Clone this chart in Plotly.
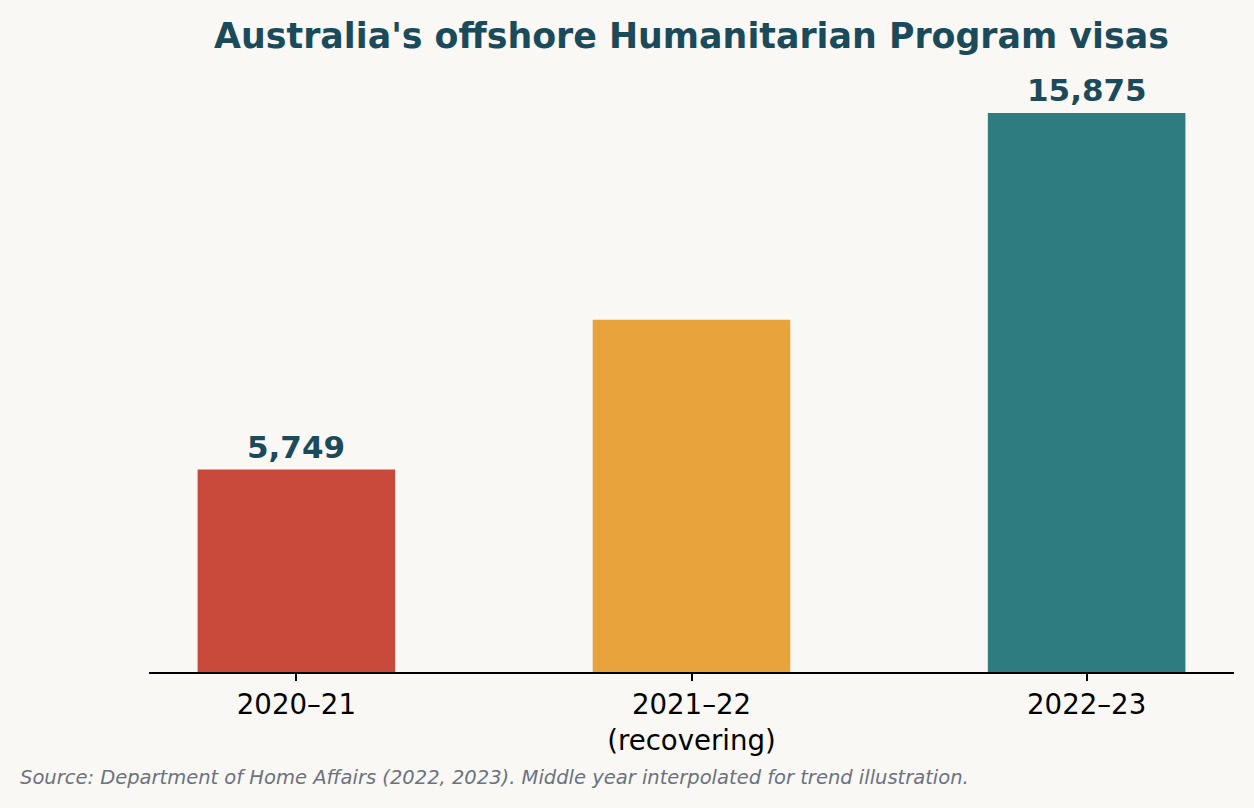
import plotly.graph_objects as go

# data
years = ["2020–21", "2021–22<br>(recovering)", "2022–23"]
visas = [5749, 10000, 15875]
value_labels = ["5,749", None, "15,875"]
bar_colors = ["#C94A3B", "#E8A33D", "#2E7B80"]

title_color = "#1B4A5A"
bg = "#F9F8F5"
font_family = "DejaVu Sans"

fig = go.Figure()
fig.add_trace(
    go.Bar(x=years, y=visas, marker=dict(color=bar_colors, line=dict(width=0)), width=0.5)
)

# value labels above the bars (middle one is left unlabelled)
for x, y, lab in zip(years, visas, value_labels):
    if lab is None:
        continue
    fig.add_annotation(
        x=x, y=y, text="<b>" + lab + "</b>", showarrow=False,
        yanchor="bottom", yshift=3,
        font=dict(family=font_family, size=31, color=title_color)
    )

fig.add_annotation(
    text="<i>Source: Department of Home Affairs (2022, 2023). Middle year interpolated for trend illustration.</i>",
    xref="paper", yref="paper", x=-0.1208, y=-0.172, xanchor="left", yanchor="middle",
    showarrow=False, font=dict(family=font_family, size=19.5, color="#6B7280")
)

fig.update_layout(
    title=dict(
        text="<b>Australia's offshore Humanitarian Program visas</b>",
        x=0.5, xref="paper", xanchor="center",
        y=0.956, yanchor="middle",
        font=dict(family=font_family, size=34.8, color=title_color)
    ),
    width=1254, height=808,
    margin=dict(l=149, r=20, t=57, b=136),
    paper_bgcolor=bg, plot_bgcolor=bg,
    showlegend=False,
    font=dict(family=font_family, color="black"),
)

fig.update_xaxes(
    range=[-0.373, 2.373],
    showline=True, linecolor="black", linewidth=2,
    ticks="outside", ticklen=7, tickwidth=2, tickcolor="black",
    tickfont=dict(size=27.6, color="black"),
    showgrid=False, zeroline=False,
)
fig.update_yaxes(
    range=[0, 15875 * 1.1],
    visible=False, showgrid=False, zeroline=False,
)

# drop the default page margin so the figure fills the window
fig.write_html(
    "out.html",
    config={"displayModeBar": False},
    post_script="document.body.style.margin='0';",
)
